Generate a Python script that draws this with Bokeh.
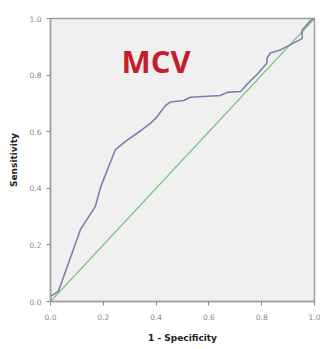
from bokeh.plotting import figure
from bokeh.models import Range1d, FixedTicker, Label, CustomJSTickFormatter
from bokeh.embed import file_html
from bokeh.resources import INLINE

fpr = [0.0, 0.0, 0.03, 0.114, 0.17, 0.19, 0.246, 0.284, 0.347, 0.379, 0.398, 0.436,
       0.455, 0.505, 0.53, 0.644, 0.669, 0.72, 0.745, 0.783, 0.82, 0.82, 0.833, 0.871,
       0.953, 0.953, 0.985, 1.0]
tpr = [0.0, 0.018, 0.036, 0.255, 0.336, 0.405, 0.537, 0.566, 0.607, 0.63, 0.647, 0.693,
       0.705, 0.71, 0.722, 0.728, 0.739, 0.742, 0.768, 0.803, 0.843, 0.86, 0.878, 0.889,
       0.929, 0.958, 0.993, 1.0]
ref_x = [0.0, 1.0]
ref_y = [0.0, 1.0]
ticks = [0.0, 0.2, 0.4, 0.6, 0.8, 1.0]
title_text = "MCV"

p = figure(width=320, height=345, output_backend="svg", toolbar_location=None,
           x_range=Range1d(0, 1), y_range=Range1d(0, 1),
           min_border_left=50, min_border_right=6, min_border_top=18, min_border_bottom=40)
p.background_fill_color = "#f0f0f0"
p.border_fill_color = "white"
p.outline_line_color = "#a0a0a0"
p.outline_line_width = 1.5
p.grid.visible = False

for ax in (p.xaxis, p.yaxis):
    ax.ticker = FixedTicker(ticks=ticks)
    ax.minor_tick_line_color = None
    ax.major_tick_in = 0
    ax.major_tick_out = 4
    ax.major_tick_line_color = "#888888"
    ax.axis_line_color = "#a0a0a0"
    ax.axis_line_width = 1.5
    ax.major_label_text_font_size = "7.5px"
    ax.major_label_text_color = "#888888"
    ax.major_label_text_font = "DejaVu Sans"
    ax.axis_label_text_font_size = "9px"
    ax.axis_label_text_font_style = "bold"
    ax.axis_label_text_font = "DejaVu Sans"
    ax.axis_label_text_color = "#222222"
p.xaxis.formatter = CustomJSTickFormatter(code="return tick.toFixed(1);")
p.yaxis.formatter = CustomJSTickFormatter(code="return tick.toFixed(1);")
p.xaxis.axis_label = "1 - Specificity"
p.yaxis.axis_label = "Sensitivity"
p.xaxis.major_label_standoff = 8
p.xaxis.axis_label_standoff = 10
p.yaxis.axis_label_standoff = 8

p.line(ref_x, ref_y, line_color="#7cc47c", line_width=1.2)
p.line(fpr, tpr, line_color="#7a7fb0", line_width=1.6)

p.add_layout(Label(x=0.40, y=0.85, text=title_text, text_align="center", text_baseline="middle",
                   text_color="#c41e2a", text_font_size="31px", text_font_style="bold",
                   text_font="Open Sans"))

open("out.html", "w").write(file_html(p, INLINE))
